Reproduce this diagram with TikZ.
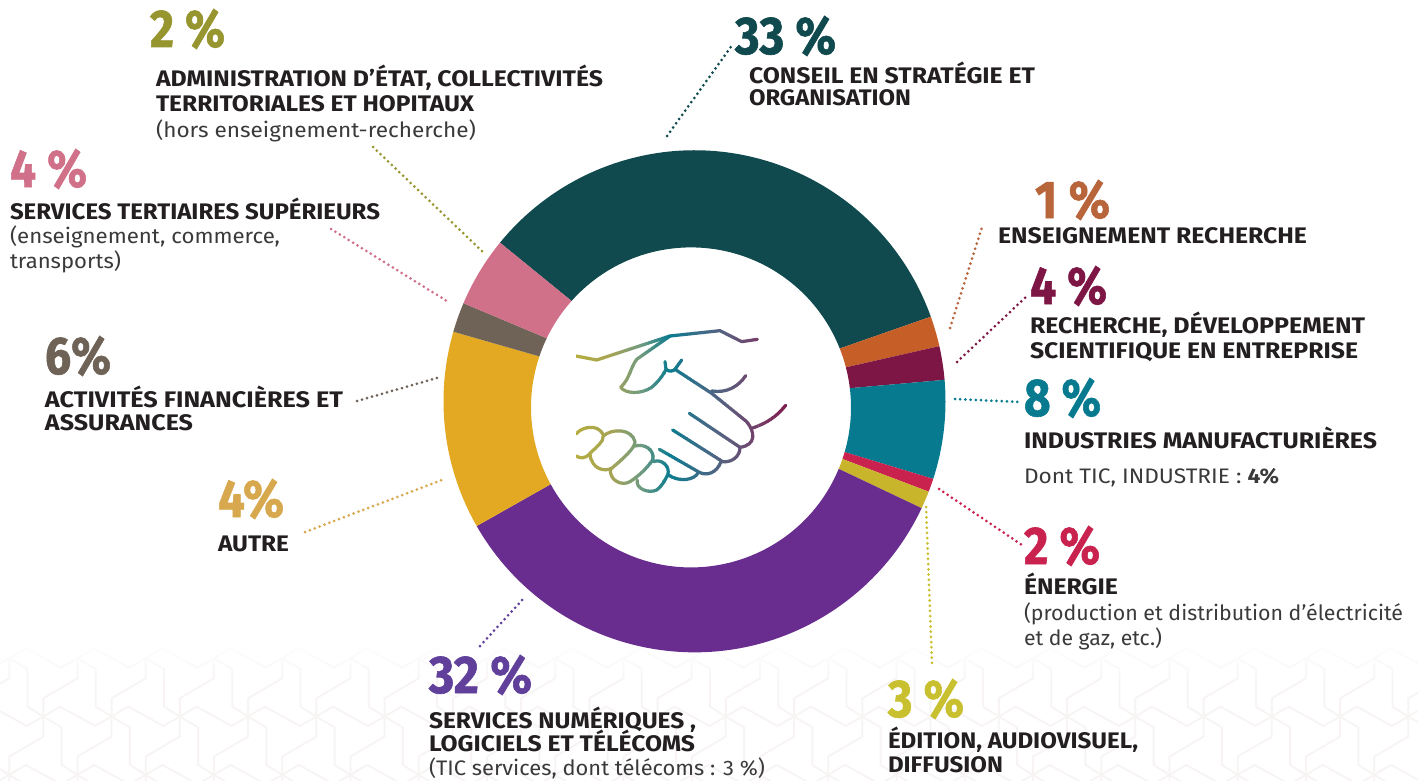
\documentclass[tikz,border=0pt]{standalone}
\usepackage{fontspec}
\usepackage{graphicx}
\setmainfont{Fira Sans}
\newfontfamily\pctfont[FakeBold=1.2]{Fira Sans Bold}
\definecolor{cA}{HTML}{104A4E}\definecolor{cB}{HTML}{C65F27}\definecolor{cC}{HTML}{7E1645}
\definecolor{cD}{HTML}{077A8F}\definecolor{cE}{HTML}{C9224F}\definecolor{cF}{HTML}{C9B52C}
\definecolor{cG}{HTML}{692D8F}\definecolor{cH}{HTML}{E3A923}\definecolor{cI}{HTML}{6F6357}
\definecolor{cJ}{HTML}{D07089}\definecolor{cK}{HTML}{96952F}
\definecolor{pB}{HTML}{B9653C}\definecolor{pF}{HTML}{C9C02F}\definecolor{pG}{HTML}{60409B}\definecolor{pH}{HTML}{D8A84F}
\definecolor{ink}{HTML}{231F20}\definecolor{soft}{HTML}{3A3A3A}\definecolor{tile}{HTML}{F8F4F4}
\tikzset{
  lab/.style={anchor=base west,inner sep=0pt,outer sep=0pt},
  pct/.style={lab,font=\pctfont\fontsize{53}{53}\selectfont},
  head/.style={lab,text=ink,font=\bfseries\fontsize{22.5}{22.5}\selectfont},
  body/.style={lab,text=soft,font=\fontsize{21}{21}\selectfont},
  dotline/.style={line width=3pt,line cap=round,dash pattern=on 0pt off 5.2pt},
  tileline/.style={line width=1.8pt,tile,line join=round},
  handline/.style={line width=3.2pt,line cap=round,line join=round}
}
\newcommand\tx[6]{\node[#5] (#1) at (#2,#3) {\resizebox{#4pt}{\height}{#6}};}
% outer start, outer end, inner start, inner end, colour
\newcommand\slice[5]{\fill[#5] ({694.5+251*cos(#1)},{-401.3+251*sin(#1)}) arc[start angle=#1,end angle=#2,radius=251] -- ({691+160*cos(#4)},{-407.4+160*sin(#4)}) arc[start angle=#4,end angle=#3,radius=160] -- cycle;}
\newcommand\handstrokes{%
 \draw[handline] (108,138) -- (170,150) -- (390,78) -- (540,62) -- (605,95) -- (652,88);
 \draw[handline] (390,78) -- (290,148) .. controls (270,175) and (270,205) .. (242,232) .. controls (255,250) and (300,255) .. (335,232) .. controls (355,215) and (370,195) .. (378,178) -- (375,155);
 \draw[handline] (378,178) .. controls (385,185) and (398,185) .. (405,178) -- (425,150);
 \draw[handline] (405,178) -- (515,250) -- (620,335) .. controls (645,365) and (650,405) .. (600,412) -- (448,310);
 \draw[handline] (600,412) .. controls (600,440) and (575,458) .. (548,455) -- (398,360);
 \draw[handline] (543,455) .. controls (530,490) and (500,498) .. (478,487) -- (358,418);
 \draw[handline] (475,487) .. controls (465,510) and (420,518) .. (385,495);
 \draw[handline] (515,243) .. controls (560,250) and (595,230) .. (617,197);
 \draw[handline] (635,355) .. controls (680,340) and (710,320) .. (737,286);
 \draw[handline] (108,372) .. controls (125,350) and (175,340) .. (190,375) .. controls (192,395) and (170,410) .. (150,430) .. controls (135,448) and (120,445) .. (108,438);
 \draw[handline] (190,378) .. controls (215,355) and (275,355) .. (285,395) .. controls (285,415) and (250,445) .. (215,475) .. controls (195,485) and (155,480) .. (150,432);
 \draw[handline] (285,408) .. controls (315,400) and (345,420) .. (338,450) .. controls (320,475) and (300,495) .. (270,515) .. controls (245,530) and (205,510) .. (212,475);
 \draw[handline] (340,455) .. controls (365,445) and (392,470) .. (383,495) .. controls (375,510) and (365,530) .. (350,540) .. controls (325,552) and (285,535) .. (292,510);
}
\begin{document}
\begin{tikzpicture}[x=1pt,y=-1pt]
\useasboundingbox (0,0) rectangle (1418,781);
\fill[white] (0,0) rectangle (1418,781);
% background tiles
\begin{scope}
\clip (0,640) rectangle (1418,781);
\foreach \r in {0,1,2}{
 \foreach \k in {-1,...,21}{
  \pgfmathsetmacro\sx{(\r==1 ? 43.3 : 9.2)+68.25*\k}
  \pgfmathsetmacro\sy{658.3+58.3*\r}
  \begin{scope}[shift={(\sx,\sy)}]
   \draw[tileline] (0,0) -- (16.7,-10) -- (51.7,9.3) -- (68.25,0);
   \draw[tileline] (0,0) -- (18.3,10.7) -- (18.3,48.3) -- (34.1,58.3);
   \draw[tileline] (0,0) -- (0,20) -- (-34.1,40) -- (-34.1,58.3);
  \end{scope}
 }
}
\end{scope}
\foreach \i in {0,...,11}{
 \pgfmathsetmacro\yy{640+3.5*\i}
 \pgfmathsetmacro\op{1-\i/12}
 \fill[white,fill opacity=\op] (0,\yy) rectangle (1418,\yy+3.5);
}
% ring
\begin{scope}[y=1pt]
\slice{19.7}{140.8}{21.6}{138.3}{cA}
\slice{12.7}{19.7}{14.5}{21.6}{cB}
\slice{4.9}{12.7}{6.9}{14.5}{cC}
\slice{-18}{4.9}{-16.2}{6.9}{cD}
\slice{-21.1}{-18}{-18.8}{-16.2}{cE}
\slice{-25.2}{-21.1}{-22.6}{-18.8}{cF}
\slice{209.8}{334.8}{208.7}{337.4}{cG}
\slice{163.9}{209.8}{161.4}{208.7}{cH}
\slice{157}{163.9}{154.4}{161.4}{cI}
\slice{140.8}{157}{138.3}{154.4}{cJ}
\end{scope}
% handshake: colour runs across the drawing from left to right
\foreach \xa/\xb/\ca/\cb in {576/610/B5AD3F/A5A455,610/640/A5A455/6F9A80,640/668/6F9A80/0B7C8F,668/700/0B7C8F/3C6C88,700/725/3C6C88/5A5F7E,725/755/5A5F7E/74406A,755/788/74406A/801A4C}{
 \definecolor{ca}{HTML}{\ca}\definecolor{cb}{HTML}{\cb}
 \foreach \t in {0,10,...,90}{
  \pgfmathsetmacro\xl{\xa+(\xb-\xa)*\t/100}
  \pgfmathsetmacro\xr{\xl+(\xb-\xa)/10+0.35}
  \colorlet{cur}{cb!\t!ca}
  \begin{scope}
   \clip (\xl,315) rectangle (\xr,500);
   \begin{scope}[x=0.33333pt,y=-0.33333pt,shift={(1620,930)},color=cur]
    \handstrokes
   \end{scope}
  \end{scope}
 }
}
% labels
\tx{p33}{735}{54}{101}{pct,text=cA}{33 \%}
\tx{h33a}{749}{84}{286}{head}{CONSEIL EN STRATÉGIE ET}
\tx{h33b}{749}{106}{162}{head}{ORGANISATION}
\tx{p2a}{150}{47}{75}{pct,text=cK}{2 \%}
\tx{hAa}{156}{87}{447}{head}{ADMINISTRATION D’ÉTAT, COLLECTIVITÉS}
\tx{hAb}{156}{112}{318}{head}{TERRITORIALES ET HOPITAUX}
\tx{bA}{156}{137}{320}{body}{(hors enseignement-recherche)}
\tx{p4a}{10}{187}{77}{pct,text=cJ}{4 \%}
\tx{hS}{10}{219}{370}{head}{SERVICES TERTIAIRES SUPÉRIEURS}
\tx{bSa}{10}{243}{270}{body}{(enseignement, commerce,}
\tx{bSb}{10}{268}{111}{body}{transports)}
\tx{p6}{45}{374}{66}{pct,text=cI}{6\%}
\tx{hFa}{45}{407}{298}{head}{ACTIVITÉS FINANCIÈRES ET}
\tx{hFb}{45}{430}{148}{head}{ASSURANCES}
\tx{p4b}{218}{517}{66}{pct,text=pH}{4\%}
\tx{hAu}{218}{551}{71}{head}{AUTRE}
\tx{p32}{429}{693}{103}{pct,text=pG}{32 \%}
\tx{hNa}{429}{728}{267}{head}{SERVICES NUMÉRIQUES ,}
\tx{hNb}{429}{751}{266}{head}{LOGICIELS ET TÉLÉCOMS}
\tx{bN}{429}{775}{336}{body}{(TIC services, dont télécoms : 3 \%)}
\tx{p3}{888}{717}{76}{pct,text=pF}{3 \%}
\tx{hEa}{888}{748}{250}{head}{ÉDITION, AUDIOVISUEL,}
\tx{hEb}{888}{772}{115}{head}{DIFFUSION}
\tx{p2b}{1024}{564}{76}{pct,text=cE}{2 \%}
\tx{hG}{1024}{594}{94}{head}{ÉNERGIE}
\tx{bGa}{1024}{620}{379}{body}{(production et distribution d’électricité}
\tx{bGb}{1024}{645}{138}{body}{et de gaz, etc.)}
\tx{p8}{1024}{416}{77}{pct,text=cD}{8 \%}
\tx{hI}{1024}{448}{353}{head}{INDUSTRIES MANUFACTURIÈRES}
\tx{bI}{1024}{483}{255}{body}{Dont TIC, INDUSTRIE : \textbf{4\%}}
\tx{p4c}{1030}{304}{77}{pct,text=cC}{4 \%}
\tx{hRa}{1030}{333}{335}{head}{RECHERCHE, DÉVELOPPEMENT}
\tx{hRb}{1030}{358}{328}{head}{SCIENTIFIQUE EN ENTREPRISE}
\tx{p1}{1035}{218}{75}{pct,text=pB}{1 \%}
\tx{hC}{998}{243}{309}{head}{ENSEIGNEMENT RECHERCHE}
% connector ends
\coordinate (a1) at (667,136);\coordinate (a2) at (733,44);
\coordinate (b1) at (373,147);\coordinate (b2) at (484,253);
\coordinate (c1) at (331,229);\coordinate (c2) at (450,303);
\coordinate (d1) at (357,401);\coordinate (d2) at (437,378);
\coordinate (e1) at (305,532);\coordinate (e2) at (442,480);
\coordinate (f1) at (480,646);\coordinate (f2) at (524,598);
\coordinate (g1) at (926,507);\coordinate (g2) at (932,664);
\coordinate (h1) at (939,489);\coordinate (h2) at (1022,545);
\coordinate (i1) at (955,399);\coordinate (i2) at (1020,402);
\coordinate (j1) at (957,362);\coordinate (j2) at (1028,295);
\coordinate (k1) at (950,328);\coordinate (k2) at (983,224);
\draw[dotline,cA] (a1) -- (a2);
\draw[dotline,cK] (b1) -- (b2);
\draw[dotline,cJ] (c1) -- (c2);
\draw[dotline,cI] (d1) -- (d2);
\draw[dotline,pH] (e1) -- (e2);
\draw[dotline,pG] (f1) -- (f2);
\draw[dotline,pF] (g1) -- (g2);
\draw[dotline,cE] (h1) -- (h2);
\draw[dotline,cD] (i1) -- (i2);
\draw[dotline,cC] (j1) -- (j2);
\draw[dotline,pB] (k1) -- (k2);
\end{tikzpicture}
\end{document}
